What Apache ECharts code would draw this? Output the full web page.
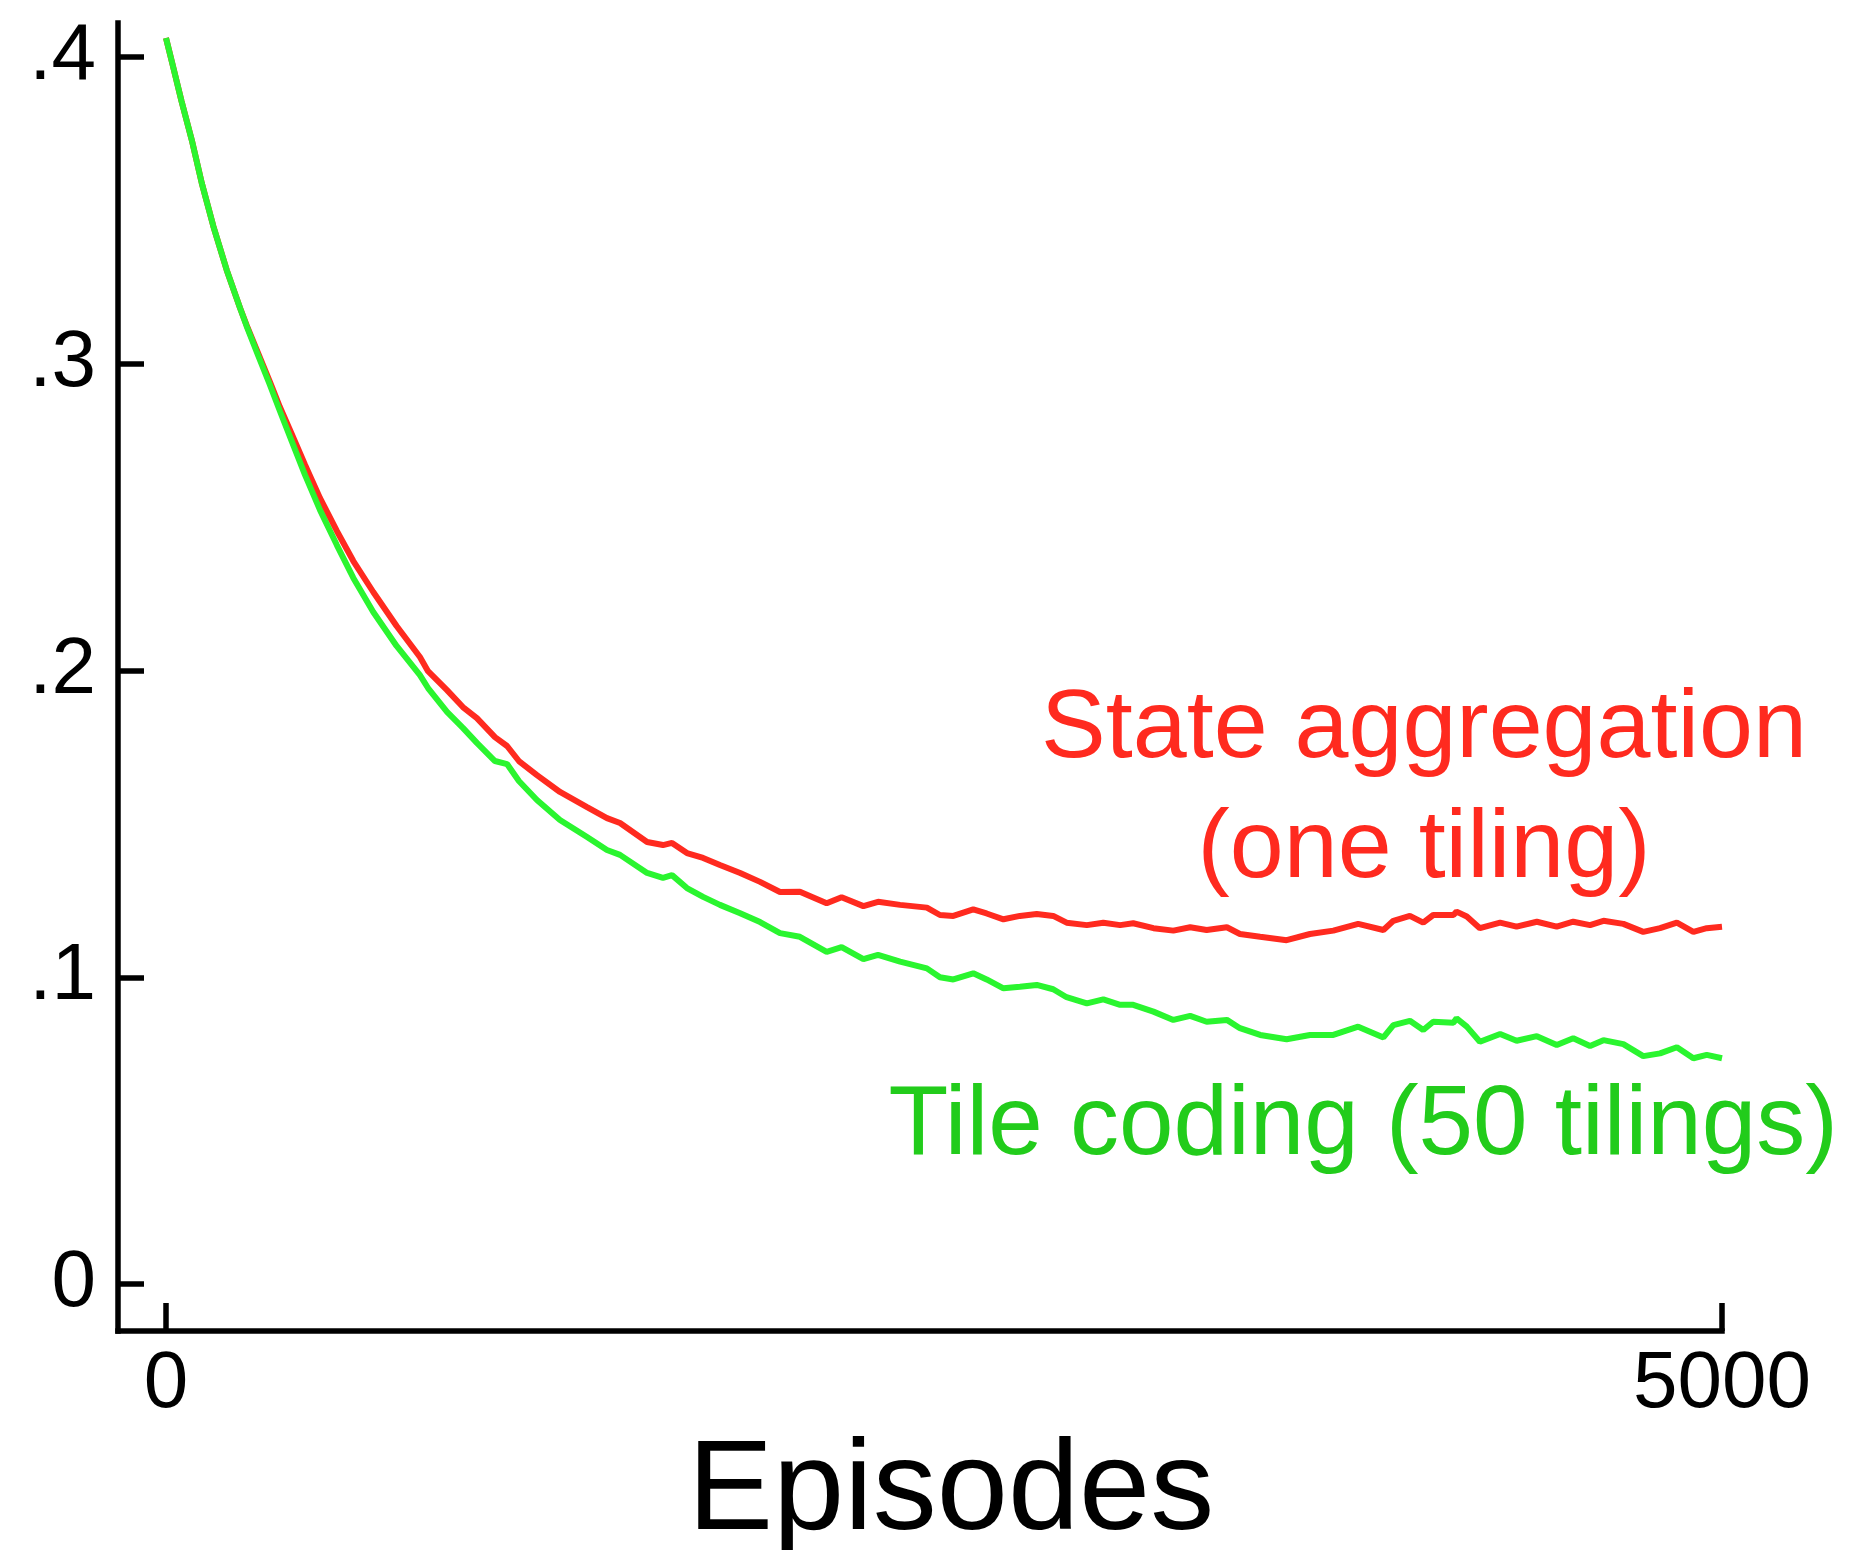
<!DOCTYPE html>
<html>
<head>
<meta charset="utf-8">
<title>Episodes</title>
<script src="https://cdn.jsdelivr.net/npm/echarts@6/dist/echarts.min.js"></script>
<style>
  html, body { margin: 0; padding: 0; background: #ffffff; }
  #chart { width: 1849px; height: 1550px; }
</style>
</head>
<body>
<div id="chart"></div>
<script>
// Episode numbers at which both curves were sampled
const episodes = [0,23,50,83,115,152,195,238,259,297,334,366,404,447,495,549,602,666,741,
  816,842,903,954,999,1057,1096,1134,1192,1266,1353,1417,1459,1546,1597,1626,1674,1726,1780,1845,
  1909,1973,2037,2123,2171,2241,2288,2359,2445,2487,2530,2594,2637,2691,2744,2798,2851,2894,2959,3012,
  3066,3108,3173,3237,3291,3344,3409,3451,3516,3601,3676,3751,3831,3912,3944,3997,4040,4072,4137,4147,
  4180,4222,4287,4340,4405,4469,4522,4576,4619,4683,4747,4801,4855,4908,4951,5000];

// State aggregation (one tiling)
const stateAggregation = [0.4062,0.3968,0.3856,0.3729,0.3589,0.3449,0.3306,0.3182,0.3126,0.3032,0.2941,0.2859,0.2771,0.267,0.2562,0.2455,0.2357,0.2256,0.2145,
  0.2044,0.1998,0.1936,0.1881,0.1845,0.1783,0.1754,0.1705,0.1659,0.1604,0.1555,0.1519,0.1503,0.1441,0.1431,0.1438,0.1405,0.1389,0.1366,0.134,
  0.1311,0.1278,0.1279,0.1241,0.1261,0.1232,0.1246,0.1236,0.1227,0.1203,0.12,0.1221,0.1208,0.1189,0.12,0.1206,0.12,0.1178,0.117,0.1178,
  0.117,0.1176,0.116,0.1152,0.1163,0.1154,0.1163,0.1141,0.1132,0.1121,0.1141,0.1152,0.1174,0.1154,0.1184,0.12,0.1178,0.1203,0.1203,0.1214,
  0.1198,0.116,0.1178,0.1165,0.1181,0.1165,0.1181,0.117,0.1184,0.1174,0.1148,0.116,0.1178,0.1148,0.116,0.1165];

// Tile coding (50 tilings)
const tileCoding = [0.4062,0.3968,0.3856,0.3729,0.3589,0.3449,0.3306,0.3182,0.3123,0.3025,0.2931,0.2846,0.2748,0.2637,0.2523,0.2409,0.2302,0.2191,0.208,
  0.1985,0.1943,0.1865,0.1813,0.1764,0.1705,0.1695,0.164,0.1578,0.1513,0.1457,0.1415,0.1399,0.134,0.1324,0.1333,0.1291,0.1262,0.1236,0.1209,
  0.118,0.1144,0.1132,0.1083,0.1098,0.1059,0.1073,0.1051,0.1029,0.1,0.0993,0.1013,0.0993,0.0964,0.0969,0.0975,0.0961,0.0935,0.0915,0.0928,
  0.091,0.091,0.0888,0.0861,0.0874,0.0855,0.0861,0.0834,0.0812,0.0798,0.0812,0.0812,0.0839,0.0804,0.0844,0.0858,0.0828,0.0855,0.0852,0.0866,
  0.0839,0.079,0.0815,0.0793,0.0808,0.0779,0.0801,0.0776,0.0795,0.0782,0.0743,0.0752,0.0772,0.0736,0.0747,0.0736];

// Axis ticks and their labels
const xTickValues = [0, 5000];
const xTickLabels = ['0', '5000'];
const yTickValues = [0, 0.1, 0.2, 0.3, 0.4];
const yTickLabels = ['0', '.1', '.2', '.3', '.4'];

const FONT = '"Liberation Sans", Arial, Helvetica, sans-serif';
const RED = '#ff2a1f';
const GREEN_LINE = '#2af52f';
const GREEN_TEXT = '#22cc1b';

const chart = echarts.init(document.getElementById('chart'), null, { renderer: 'canvas' });

const axisStroke = { show: true, onZero: false, lineStyle: { color: '#000', width: 5.5, cap: 'square' } };

chart.setOption({
  animation: false,
  backgroundColor: '#ffffff',
  grid: { left: 118, right: 127, top: 23, bottom: 219, containLabel: false, outerBoundsMode: 'none' },
  xAxis: {
    type: 'value',
    min: -154.2,
    max: 5000,
    splitLine: { show: false },
    axisLine: axisStroke,
    axisTick: { show: true, inside: true, length: 28, customValues: xTickValues,
      lineStyle: { color: '#000', width: 5.5 } },
    axisLabel: { show: true, customValues: xTickValues, margin: 14,
      fontSize: 80, fontFamily: FONT, color: '#000',
      formatter: v => xTickLabels[xTickValues.indexOf(v)] }
  },
  yAxis: {
    type: 'value',
    min: -0.01532,
    max: 0.4111,
    splitLine: { show: false },
    axisLine: axisStroke,
    axisTick: { show: true, inside: true, length: 26, customValues: yTickValues,
      lineStyle: { color: '#000', width: 5.5 } },
    axisLabel: { show: true, customValues: yTickValues, margin: 22,
      fontSize: 80, fontFamily: FONT, color: '#000',
      formatter: v => {
        const i = yTickValues.findIndex(t => Math.abs(t - v) < 1e-9);
        return i >= 0 ? yTickLabels[i] : '';
      } }
  },
  series: [
    {
      name: 'State aggregation (one tiling)',
      type: 'line',
      showSymbol: false,
      data: episodes.map((e, i) => [e, stateAggregation[i]]),
      lineStyle: { color: RED, width: 6 },
      z: 2
    },
    {
      name: 'Tile coding (50 tilings)',
      type: 'line',
      showSymbol: false,
      data: episodes.map((e, i) => [e, tileCoding[i]]),
      lineStyle: { color: GREEN_LINE, width: 6 },
      z: 3
    }
  ],
  graphic: [
    { type: 'text', x: 1424, y: 730,
      style: { text: 'State aggregation', fontSize: 97, fontFamily: FONT, fill: RED,
        align: 'center', verticalAlign: 'middle' } },
    { type: 'text', x: 1424, y: 850,
      style: { text: '(one tiling)', fontSize: 97, fontFamily: FONT, fill: RED,
        align: 'center', verticalAlign: 'middle' } },
    { type: 'text', x: 1838, y: 1127,
      style: { text: 'Tile coding (50 tilings)', fontSize: 98, fontFamily: FONT, fill: GREEN_TEXT,
        align: 'right', verticalAlign: 'middle' } },
    { type: 'text', x: 951, y: 1494,
      style: { text: 'Episodes', fontSize: 128, fontFamily: FONT, fill: '#000',
        align: 'center', verticalAlign: 'middle' } }
  ]
});
</script>
</body>
</html>
